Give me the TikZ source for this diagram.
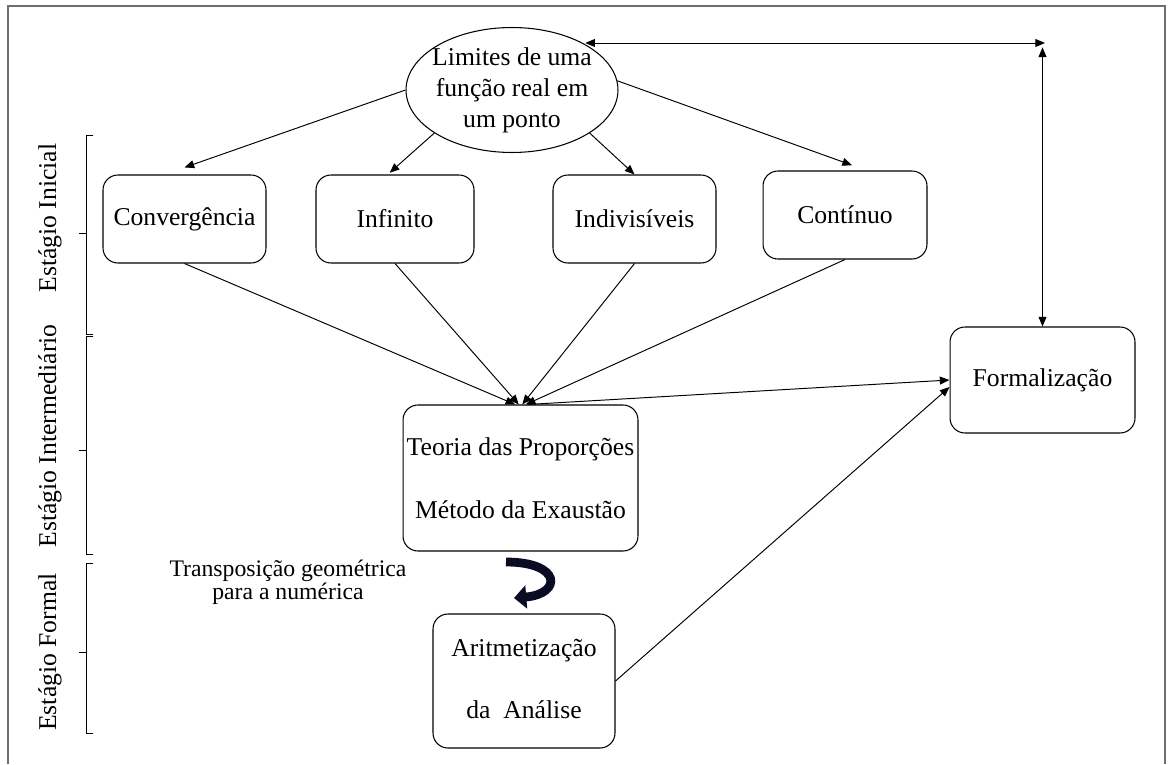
\documentclass[tikz,border=0pt]{standalone}
\usepackage{fontspec}
\setmainfont{Liberation Serif}
\usetikzlibrary{arrows.meta,shapes.geometric}
\definecolor{framegray}{RGB}{110,110,110}
\definecolor{curvcol}{RGB}{10,12,36}
\tikzset{
  box/.style={draw, rounded corners=8.5pt, line width=0.6pt, minimum height=1.76cm, align=center, inner sep=0pt},
  arr/.style={line width=0.55pt, -{Triangle[length=5.5pt,width=4.5pt]}},
  dbl/.style={line width=0.55pt, {Triangle[length=5.5pt,width=4.5pt]}-{Triangle[length=5.5pt,width=4.5pt]}},
  stage/.style={rotate=90, anchor=center, inner sep=0pt}
}
\begin{document}
\begin{tikzpicture}[x=0.02cm, y=-0.02cm, font=\fontsize{14.6}{17.6}\selectfont]
	\useasboundingbox (0,0) rectangle (1172,764);
	\draw[framegray, line width=0.9pt] (8,764) -- (8,6) -- (1165,6) -- (1165,764);

	% concept at the top
	\node[draw, ellipse, line width=0.6pt, minimum width=4.24cm, minimum height=2.5cm, inner xsep=-3pt, inner ysep=-4pt, align=center] (lim) at (512,90) {Limites de uma\\fun\c{c}\~ao real em\\um ponto};

	% initial stage
	\node[box, minimum width=3.26cm] (conv) at (184.5,219) {Converg\^encia};
	\node[box, minimum width=3.16cm] (inf) at (395,219) {Infinito};
	\node[box, minimum width=3.26cm] (ind) at (634.5,219) {Indivis\'iveis};
	\node[box, minimum width=3.28cm] (cont) at (845,215) {Cont\'inuo};

	% intermediate and formal stage
	\node[box, minimum width=4.7cm, minimum height=2.92cm] (teo) at (520.5,478) {Teoria das Propor\c{c}\~oes\\[18.4pt]M\'etodo da Exaust\~ao};
	\node[box, minimum width=3.64cm, minimum height=2.68cm] (arit) at (524,681) {\raisebox{-4.5pt}{\begin{tabular}{@{}c@{}}Aritmetiza\c{c}\~ao\\[17.6pt]da\ \ An\'alise\end{tabular}}};
	\node[box, minimum width=3.7cm, minimum height=2.12cm] (form) at (1042.5,380) {Formaliza\c{c}\~ao};

	\node[align=center, font=\fontsize{13.5}{13.3}\selectfont] (transp) at (288,582) {Transposi\c{c}\~ao geom\'etrica\\para a num\'erica};

	% stage labels and brackets
	\node[stage] (sini) at (50,218) {Est\'agio Inicial};
	\node[stage] (sint) at (50,436) {Est\'agio Intermedi\'ario};
	\node[stage] (sfor) at (50,652) {Est\'agio Formal};
	\foreach \t/\m/\b in {135/233/334, 336/450/554, 563/652/733}
		\draw[line width=0.5pt] (93,\t) -- (86,\t) -- (86,\b) -- (93,\b) (86,\m) -- (79,\m);

	% arrows from the top concept
	\draw[arr] (lim.180) -- ([yshift=4pt]conv.north);
	\draw[arr] (lim.209) -- ([xshift=-3pt,yshift=1pt]inf.north);
	\draw[arr] (lim.331) -- (ind.north);
	\draw[arr] (lim.5) -- ([xshift=4pt,yshift=3pt]cont.north);

	% arrows into the intermediate stage
	\draw[arr] (conv.south) -- ([xshift=-3pt]teo.north);
	\draw[arr] (inf.south) -- ([xshift=-1pt]teo.north);
	\draw[arr] (ind.south) -- ([xshift=1pt]teo.north);
	\draw[arr] (cont.south) -- ([xshift=3pt]teo.north);

	% arrows to the formalization
	\draw[arr] ([xshift=4pt]teo.north) -- (form.west);
	\draw[arr] (arit.east) -- ([yshift=-4pt]form.west);
	\coordinate (corner) at (1045,43);
	\draw[dbl] (lim.32 |- corner) -- (corner);
	\draw[dbl] ([yshift=-2.5pt]form.north |- corner) -- (form.north);

	% curved transposition arrow
	\coordinate (cvA) at (506,562);
	\coordinate (cvB) at (514,598);
	\draw[curvcol, line width=5pt, -{Triangle[length=7pt,width=13pt]}] (cvA) .. controls (562,562) and (562,594) .. (cvB);
\end{tikzpicture}
\end{document}
